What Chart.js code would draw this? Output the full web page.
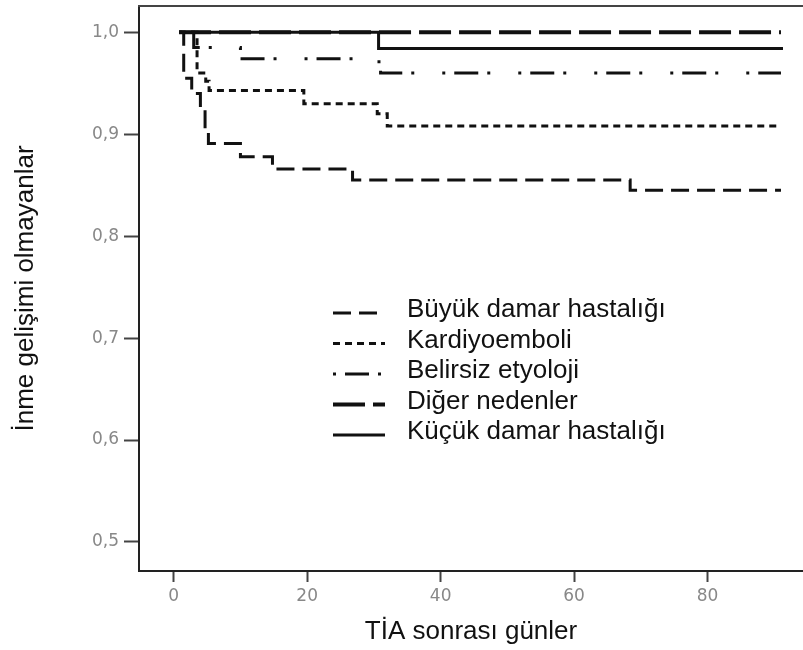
<!DOCTYPE html>
<html>
<head>
<meta charset="utf-8">
<script src="https://cdn.jsdelivr.net/npm/chart.js@4.4.0/dist/chart.umd.min.js"></script>
<style>
  html, body { margin: 0; padding: 0; background: #fff; }
</style>
</head>
<body>
<canvas id="km" width="803" height="650"></canvas>
<script>
// series names (legend order)
const seriesNames = ['Büyük damar hastalığı', 'Kardiyoemboli', 'Belirsiz etyoloji', 'Diğer nedenler', 'Küçük damar hastalığı'];

// Kaplan-Meier steps: day of event and survival from that day on
const buyukDays = [0.8, 1.5, 2.7, 4, 4.7, 5.2, 10, 14.8, 26.8, 68.4, 91];
const buyukSurv = [1.0, 0.955, 0.94, 0.925, 0.905, 0.891, 0.878, 0.866, 0.855, 0.845, 0.845];

const kardiyoDays = [0.8, 3.5, 4.8, 5.3, 19.5, 30.5, 32, 91];
const kardiyoSurv = [1.0, 0.96, 0.952, 0.943, 0.930, 0.920, 0.908, 0.908];

const belirsizDays = [0.8, 3, 10, 29, 31, 91];
const belirsizSurv = [1.0, 0.985, 0.974, 0.971, 0.96, 0.96];

const digerDays = [0.8, 91];
const digerSurv = [1.0, 1.0];

const kucukDays = [0.8, 30.7, 91.3];
const kucukSurv = [1.0, 0.984, 0.984];

// axis ticks
const xTickValues = [0, 20, 40, 60, 80];
const yTickValues = [0.5, 0.6, 0.7, 0.8, 0.9, 1.0];

// line styles, one per series
const lineStyles = [
    { dash: [18, 8], width: 3 },
    { dash: [7, 5], width: 3 },
    { dash: [3, 9, 24, 9, 3, 28], width: 3 },
    { dash: [32, 8], width: 4 },
    { dash: [], width: 3 }
];

const allDays = [buyukDays, kardiyoDays, belirsizDays, digerDays, kucukDays];
const allSurv = [buyukSurv, kardiyoSurv, belirsizSurv, digerSurv, kucukSurv];

const datasets = seriesNames.map(function (name, i) {
    return {
        label: name,
        data: allDays[i].map(function (d, j) { return { x: d, y: allSurv[i][j] }; }),
        stepped: true,
        borderColor: '#111',
        borderWidth: lineStyles[i].width,
        borderDash: lineStyles[i].dash,
        pointRadius: 0,
        fill: false
    };
});

// top edge of the plot frame
const framePlugin = {
    id: 'frame',
    beforeDatasetsDraw: function (chart) {
        const ctx = chart.ctx;
        const a = chart.chartArea;
        ctx.save();
        ctx.strokeStyle = '#444';
        ctx.lineWidth = 2;
        ctx.beginPath();
        ctx.moveTo(a.left - 1, a.top);
        ctx.lineTo(a.right, a.top);
        ctx.stroke();
        ctx.restore();
    }
};

// legend inside the plot
const insideLegend = {
    id: 'insideLegend',
    afterDatasetsDraw: function (chart) {
        const ctx = chart.ctx;
        const a = chart.chartArea;
        const x0 = a.left + 194;
        const sampleLen = 52;
        const textX = a.left + 268;
        const y0 = 310;
        const rowGap = 30.5;
        ctx.save();
        chart.data.datasets.forEach(function (ds, i) {
            const y = y0 + i * rowGap;
            ctx.strokeStyle = ds.borderColor;
            ctx.lineWidth = ds.borderWidth;
            ctx.setLineDash(ds.borderDash);
            ctx.beginPath();
            ctx.moveTo(x0, y + 3);
            ctx.lineTo(x0 + sampleLen, y + 3);
            ctx.stroke();
            ctx.setLineDash([]);
            ctx.fillStyle = '#111';
            ctx.font = '26px "Liberation Sans", Arial, sans-serif';
            ctx.textBaseline = 'middle';
            ctx.textAlign = 'left';
            ctx.fillText(ds.label, textX, y);
        });
        ctx.restore();
    }
};

const tickFont = { family: '"DejaVu Sans", sans-serif', size: 17 };
const titleFont = { family: '"Liberation Sans", Arial, sans-serif', size: 26 };

new Chart(document.getElementById('km'), {
    type: 'line',
    data: { datasets: datasets },
    options: {
        responsive: false,
        animation: false,
        devicePixelRatio: 1,
        layout: { padding: { top: 6, right: 0, left: 0, bottom: 0 } },
        plugins: {
            legend: { display: false },
            tooltip: { enabled: false }
        },
        scales: {
            x: {
                type: 'linear',
                min: -5.2,
                max: 94.3,
                afterBuildTicks: function (s) { s.ticks = xTickValues.map(function (v) { return { value: v }; }); },
                afterFit: function (s) { s.height = 79; s.paddingLeft = 0; s.paddingRight = 0; },
                grid: { drawOnChartArea: false, drawTicks: true, tickLength: 11, tickColor: '#444', tickWidth: 2 },
                border: { color: '#222', width: 2 },
                ticks: { color: '#888', font: tickFont, padding: 4, maxRotation: 0, autoSkip: false },
                title: { display: true, text: 'TİA sonrası günler', color: '#111', font: titleFont, padding: { top: 0, bottom: 3 } }
            },
            y: {
                type: 'linear',
                min: 0.4715,
                max: 1.0258,
                afterBuildTicks: function (s) { s.ticks = yTickValues.map(function (v) { return { value: v }; }); },
                afterFit: function (s) { s.width = 139; s.paddingTop = 0; s.paddingBottom = 0; },
                grid: { drawOnChartArea: false, drawTicks: true, tickLength: 15, tickColor: '#444', tickWidth: 2 },
                border: { color: '#222', width: 2 },
                ticks: {
                    color: '#888', font: tickFont, padding: 5, autoSkip: false,
                    callback: function (v) { return v.toFixed(1).replace('.', ','); }
                },
                title: { display: true, text: 'İnme gelişimi olmayanlar', color: '#111', font: titleFont, padding: { top: 10, bottom: 0 } }
            }
        }
    },
    plugins: [framePlugin, insideLegend]
});
</script>
</body>
</html>
